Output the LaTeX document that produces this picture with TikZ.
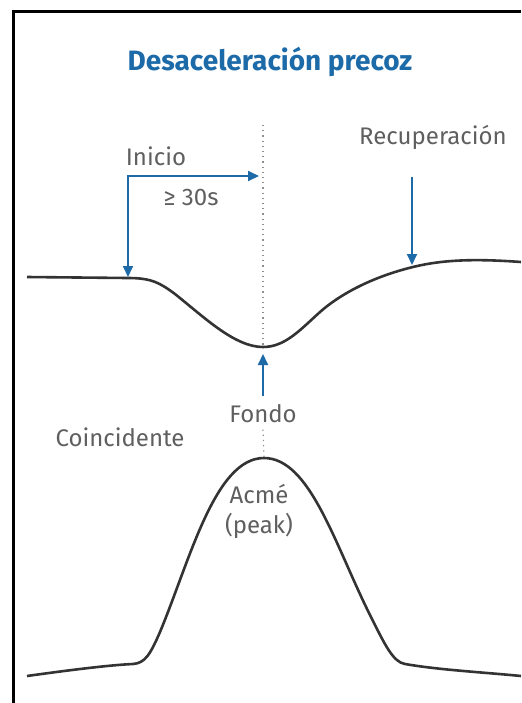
\documentclass[tikz,border=0pt]{standalone}
\usepackage{fontspec}
\setmainfont{Fira Sans}
\usetikzlibrary{arrows.meta}
\definecolor{azul}{RGB}{28,106,168}
\definecolor{gris}{RGB}{95,95,95}
\tikzset{
  lbl/.style={text=gris, font=\fontsize{12}{15}\selectfont, inner sep=0pt},
  flecha/.style={draw=azul, line width=1pt},
  curva/.style={draw=black!80, line width=1.3pt, line join=round},
  guia/.style={draw=gris!70, dotted, line width=0.6pt},
}

\begin{document}
\begin{tikzpicture}[x=0.5pt, y=-0.5pt, >={Triangle[length=5.5pt,width=5pt]}]
    \useasboundingbox (0,0) rectangle (521,703);
    \draw[line width=1.5pt] (13,703) -- (13,11) -- (521,11);

    \node[font=\bfseries\fontsize{14}{16}\selectfont, text=azul] (title) at (270,62) {Desaceleración precoz};
    \node[lbl] (inicio) at (156,156) {Inicio};
    \node[lbl] (dur) at (191,197) {≥ 30s};
    \node[lbl] (recup) at (433,137) {Recuperación};
    \node[lbl] (fondo) at (263,414) {Fondo};
    \node[lbl] (coinc) at (120,437) {Coincidente};
    \node[lbl, align=center] (acme) at (259,511) {Acmé\\(peak)};

    \coordinate (ini) at (128,176);
    \coordinate (corte) at (259,176);
    \coordinate (inicurva) at (128,277);
    \coordinate (rtop) at (412,177);
    \coordinate (rcurva) at (412,265);
    \coordinate (techo) at (263,125);
    \coordinate (valle) at (263,347);
    \coordinate (vallebajo) at (263,354);
    \coordinate (cima) at (264,458);

    % curves
    \draw[curva] (27,277) -- (128,278)
      .. controls (152,278) and (160,283) .. (175,294)
      .. controls (205,318) and (235,347) .. (valle)
      .. controls (285,347) and (300,330) .. (320,312)
      .. controls (345,290) and (380,275) .. (413,267)
      .. controls (445,259) and (480,259) .. (521,262);
    \draw[curva] (27,676)
      .. controls (70,670) and (110,665) .. (133,664)
      .. controls (145,663) and (150,655) .. (160,632)
      .. controls (190,560) and (215,458) .. (cima)
      .. controls (310,458) and (335,545) .. (370,615)
      .. controls (385,645) and (393,662) .. (405,664)
      .. controls (440,670) and (480,672) .. (521,676);

    % guides
    \draw[guia] (techo) -- (valle);
    \draw[guia] ([yshift=-3pt]fondo.south) -- (cima);

    % arrows
    \draw[flecha, <->] (corte) -- (ini) -- (inicurva);
    \draw[flecha, ->] (rtop) -- (rcurva);
    \draw[flecha, ->] ([yshift=4pt]fondo.north) -- (vallebajo);

\end{tikzpicture}
\end{document}
